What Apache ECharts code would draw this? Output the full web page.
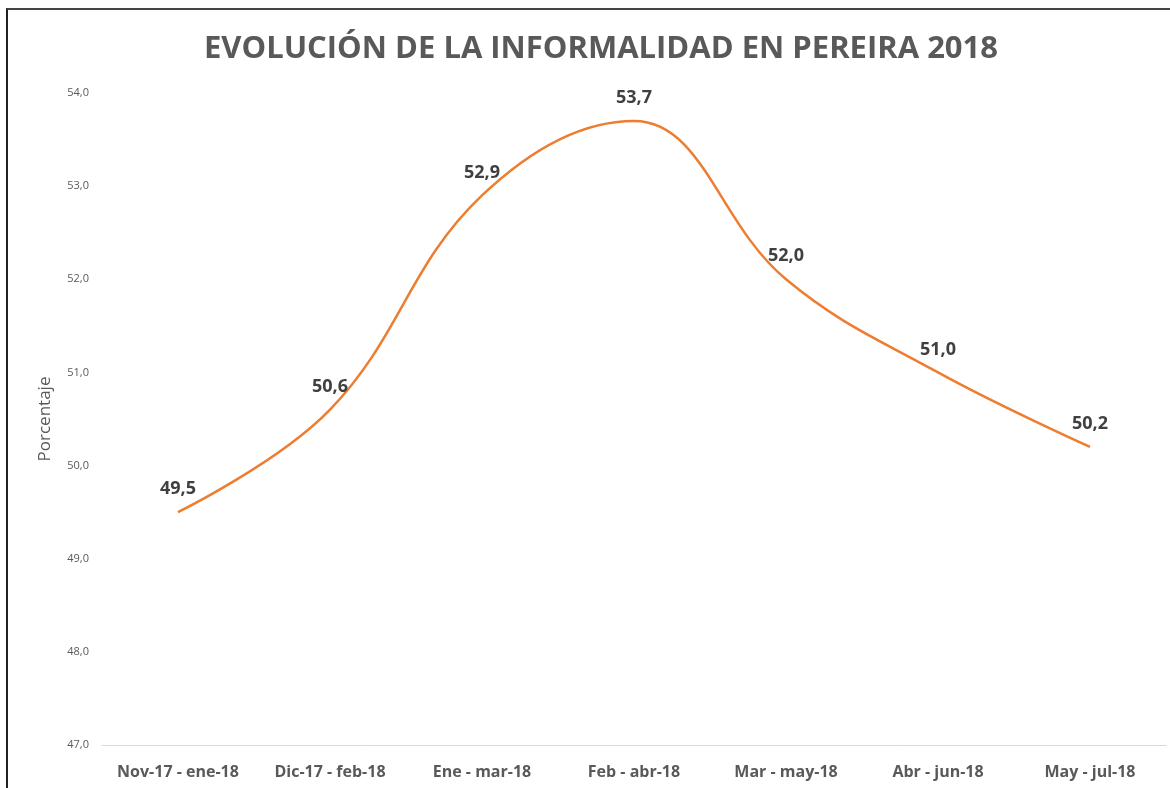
<!DOCTYPE html>
<html>
<head>
<meta charset="utf-8">
<script src="https://cdn.jsdelivr.net/npm/echarts@6/dist/echarts.min.js"></script>
<style>
html, body { margin: 0; padding: 0; background: #fff; overflow: hidden; }
#frame { position: absolute; left: 6px; top: 8px; width: 1170px; height: 800px; border-left: 2px solid #222; border-top: 2px solid #444; }
#chart { position: absolute; left: 0; top: 0; width: 1170px; height: 788px; }
</style>
</head>
<body>
<div id="frame"></div>
<div id="chart"></div>
<script>
// datos
var categorias = ['Nov-17 - ene-18', 'Dic-17 - feb-18', 'Ene - mar-18', 'Feb - abr-18', 'Mar - may-18', 'Abr - jun-18', 'May - jul-18'];
var informalidad = [49.5, 50.6, 52.9, 53.7, 52.0, 51.0, 50.2];
var titulo = 'EVOLUCIÓN DE LA INFORMALIDAD EN PEREIRA 2018';

function coma(v, d) {
	return Number(v).toFixed(d).replace('.', ',');
}

var chart = echarts.init(document.getElementById('chart'));
chart.setOption({
	animation: false,
	title: {
		text: titulo,
		left: 596,
		textAlign: 'center',
		top: 29,
		textStyle: { fontFamily: 'Open Sans', fontWeight: 'bold', fontSize: 31, color: '#595959' }
	},
	grid: { left: 102, right: 4, top: 93, bottom: 43 },
	xAxis: {
		type: 'category',
		data: categorias,
		boundaryGap: true,
		axisLine: { lineStyle: { color: '#d9d9d9', width: 1 } },
		axisTick: { show: false },
		axisLabel: { fontFamily: 'Open Sans', fontWeight: 'bold', fontSize: 16, color: '#595959', margin: 19, interval: 0 }
	},
	yAxis: {
		type: 'value',
		min: 47,
		max: 54,
		interval: 1,
		name: 'Porcentaje',
		nameLocation: 'middle',
		nameGap: 48,
		nameTextStyle: { fontFamily: 'Open Sans', fontSize: 17, color: '#595959' },
		axisLine: { show: false },
		axisTick: { show: false },
		splitLine: { show: false },
		axisLabel: {
			fontFamily: 'Open Sans', fontSize: 11, color: '#595959', margin: 13,
			formatter: function (v) { return coma(v, 1); }
		}
	},
	series: [{
		type: 'line',
		data: informalidad,
		smooth: 0.4,
		symbol: 'circle',
		symbolSize: 0,
		showSymbol: true,
		itemStyle: { color: '#ED7D31' },
		lineStyle: { color: '#ED7D31', width: 2.5 },
		label: {
			show: true,
			position: 'top',
			distance: 14,
			fontFamily: 'Open Sans', fontWeight: 'bold', fontSize: 18, color: '#404040',
			formatter: function (p) { return coma(p.value, 1); }
		}
	}]
});
</script>
</body>
</html>
